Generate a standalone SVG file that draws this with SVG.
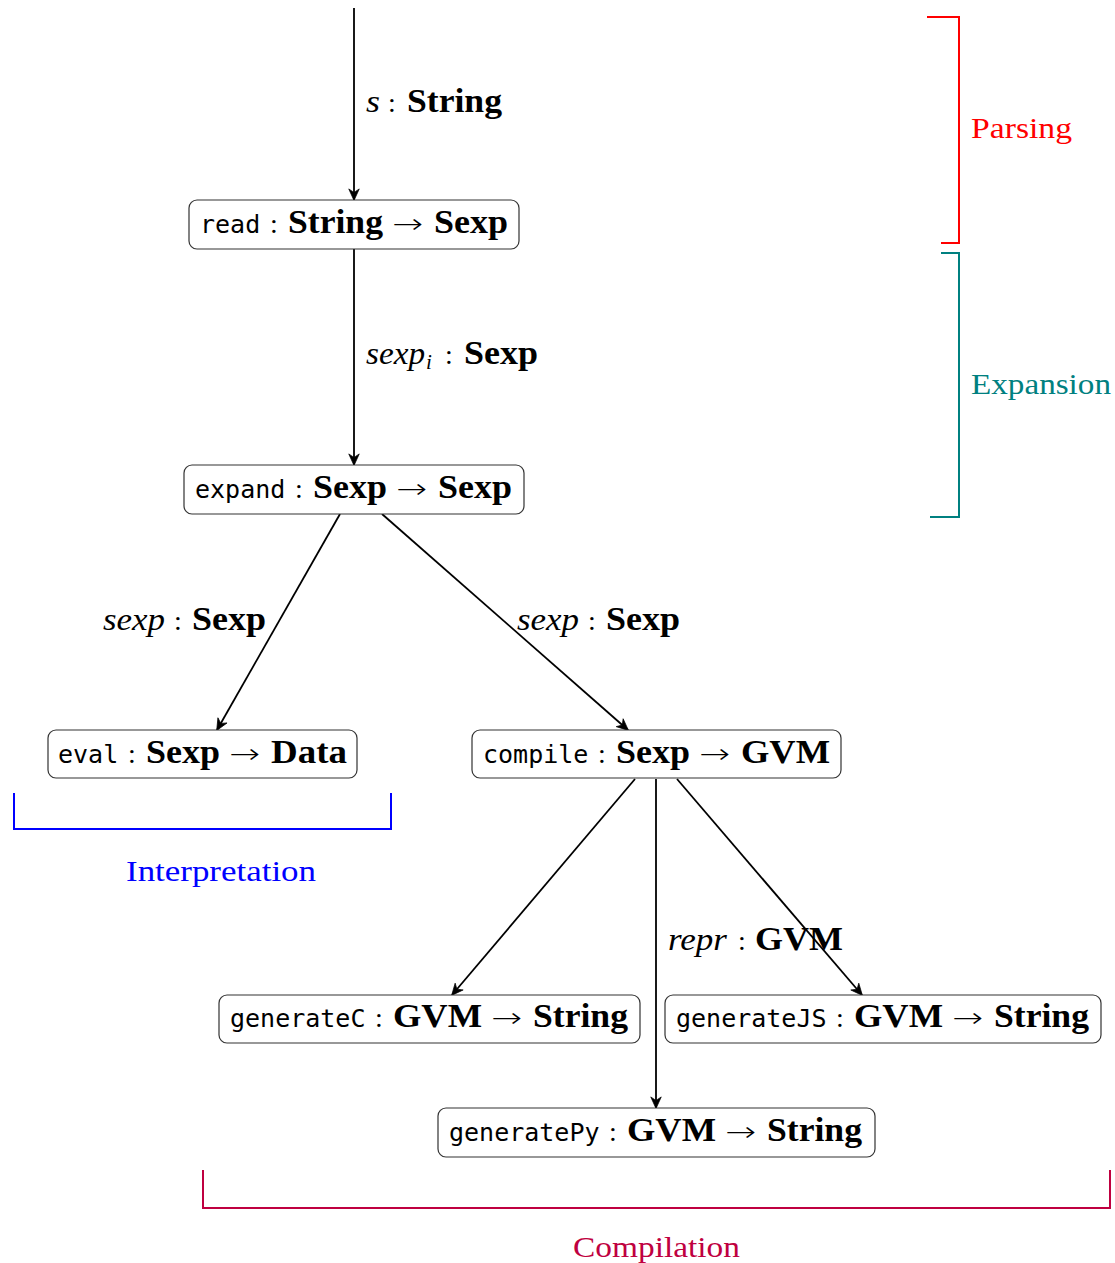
<svg xmlns="http://www.w3.org/2000/svg" width="1115" height="1263" viewBox="0 0 1115 1263">
<style>
text{font-family:"Liberation Serif","DejaVu Serif",serif;font-size:28px;fill:#000}
.tt{font-family:"DejaVu Sans Mono","Liberation Mono",monospace;font-size:25px}
.b{font-weight:bold;font-size:34px}
.i{font-style:italic;font-size:31px}
.sub{font-style:italic;font-size:21px}
.c{text-anchor:middle}
.ar{font-family:"DejaVu Sans ExtraLight","DejaVu Sans",sans-serif;font-weight:200;font-size:27px;text-anchor:middle}
.lab{font-size:30px}
.node rect{fill:#fff;stroke:#333;stroke-width:1.2}
.edge{stroke:#000;stroke-width:1.8;fill:none;marker-end:url(#arr)}
.br{fill:none;stroke-width:2}
</style>
<defs>
<marker id="arr" markerUnits="userSpaceOnUse" markerWidth="14" markerHeight="14" viewBox="-11 -6 12 12" refX="0" refY="0" orient="auto">
<path d="M0.5,0 L-9.5,-4.5 L-6.5,0 L-9.5,4.5 Z" fill="#000" stroke="#000" stroke-width="0.6" stroke-linejoin="miter"/>
</marker>
</defs>
<rect width="1115" height="1263" fill="#fff"/>
<g id="connectors">
<line class="edge" x1="354" y1="8" x2="354" y2="200"/>
<line class="edge" x1="354" y1="249" x2="354" y2="465"/>
<line class="edge" x1="340" y1="514" x2="217" y2="730"/>
<line class="edge" x1="382" y1="514" x2="628" y2="730"/>
<line class="edge" x1="635" y1="779" x2="452" y2="995"/>
<line class="edge" x1="656" y1="779" x2="656" y2="1108"/>
<line class="edge" x1="677" y1="779" x2="862" y2="995"/>
<g id="label-s">
<text class="i" x="366" y="112" textLength="14" lengthAdjust="spacingAndGlyphs">s</text>
<text class="c" x="392" y="112">:</text>
<text class="b" x="407" y="112" textLength="95" lengthAdjust="spacingAndGlyphs">String</text>
</g>
<g id="label-sexpi">
<text class="i" x="366" y="364" textLength="59" lengthAdjust="spacingAndGlyphs">sexp</text>
<text class="sub" x="426" y="369">i</text>
<text class="c" x="449" y="364">:</text>
<text class="b" x="464" y="364" textLength="74" lengthAdjust="spacingAndGlyphs">Sexp</text>
</g>
<g id="label-sexp-left">
<text class="i" x="103" y="630" textLength="62" lengthAdjust="spacingAndGlyphs">sexp</text>
<text class="c" x="178" y="630">:</text>
<text class="b" x="192" y="630" textLength="74" lengthAdjust="spacingAndGlyphs">Sexp</text>
</g>
<g id="label-sexp-right">
<text class="i" x="517" y="630" textLength="62" lengthAdjust="spacingAndGlyphs">sexp</text>
<text class="c" x="592" y="630">:</text>
<text class="b" x="606" y="630" textLength="74" lengthAdjust="spacingAndGlyphs">Sexp</text>
</g>
<g id="label-repr">
<text class="i" x="668" y="950" textLength="59" lengthAdjust="spacingAndGlyphs">repr</text>
<text class="c" x="742" y="950">:</text>
<text class="b" x="755" y="950" textLength="88" lengthAdjust="spacingAndGlyphs">GVM</text>
</g>
</g>
<g id="read" class="node">
<rect x="189" y="200" width="330" height="49" rx="8"/>
<text class="tt" x="200" y="233">read</text>
<text class="c" x="274" y="233">:</text>
<text class="b" x="288" y="233" textLength="95" lengthAdjust="spacingAndGlyphs">String</text>
<text class="ar" x="408" y="233" textLength="31" lengthAdjust="spacingAndGlyphs">→</text>
<text class="b" x="434" y="233" textLength="74" lengthAdjust="spacingAndGlyphs">Sexp</text>
</g>
<g id="expand" class="node">
<rect x="184" y="465" width="340" height="49" rx="8"/>
<text class="tt" x="195" y="498">expand</text>
<text class="c" x="299" y="498">:</text>
<text class="b" x="313" y="498" textLength="74" lengthAdjust="spacingAndGlyphs">Sexp</text>
<text class="ar" x="412" y="498" textLength="31" lengthAdjust="spacingAndGlyphs">→</text>
<text class="b" x="438" y="498" textLength="74" lengthAdjust="spacingAndGlyphs">Sexp</text>
</g>
<g id="eval" class="node">
<rect x="48" y="730" width="309" height="48" rx="8"/>
<text class="tt" x="58" y="763">eval</text>
<text class="c" x="132" y="763">:</text>
<text class="b" x="146" y="763" textLength="74" lengthAdjust="spacingAndGlyphs">Sexp</text>
<text class="ar" x="245" y="763" textLength="31" lengthAdjust="spacingAndGlyphs">→</text>
<text class="b" x="271" y="763" textLength="76" lengthAdjust="spacingAndGlyphs">Data</text>
</g>
<g id="compile" class="node">
<rect x="472" y="730" width="369" height="48" rx="8"/>
<text class="tt" x="483" y="763">compile</text>
<text class="c" x="602" y="763">:</text>
<text class="b" x="616" y="763" textLength="74" lengthAdjust="spacingAndGlyphs">Sexp</text>
<text class="ar" x="715" y="763" textLength="31" lengthAdjust="spacingAndGlyphs">→</text>
<text class="b" x="741" y="763" textLength="89" lengthAdjust="spacingAndGlyphs">GVM</text>
</g>
<g id="generateC" class="node">
<rect x="219" y="995" width="421" height="48" rx="8"/>
<text class="tt" x="230" y="1027">generateC</text>
<text class="c" x="379" y="1027">:</text>
<text class="b" x="393" y="1027" textLength="89" lengthAdjust="spacingAndGlyphs">GVM</text>
<text class="ar" x="507" y="1027" textLength="31" lengthAdjust="spacingAndGlyphs">→</text>
<text class="b" x="533" y="1027" textLength="95" lengthAdjust="spacingAndGlyphs">String</text>
</g>
<g id="generateJS" class="node">
<rect x="665" y="995" width="436" height="48" rx="8"/>
<text class="tt" x="676" y="1027">generateJS</text>
<text class="c" x="840" y="1027">:</text>
<text class="b" x="854" y="1027" textLength="89" lengthAdjust="spacingAndGlyphs">GVM</text>
<text class="ar" x="968" y="1027" textLength="31" lengthAdjust="spacingAndGlyphs">→</text>
<text class="b" x="994" y="1027" textLength="95" lengthAdjust="spacingAndGlyphs">String</text>
</g>
<g id="generatePy" class="node">
<rect x="438" y="1108" width="437" height="49" rx="8"/>
<text class="tt" x="449" y="1141">generatePy</text>
<text class="c" x="613" y="1141">:</text>
<text class="b" x="627" y="1141" textLength="89" lengthAdjust="spacingAndGlyphs">GVM</text>
<text class="ar" x="741" y="1141" textLength="31" lengthAdjust="spacingAndGlyphs">→</text>
<text class="b" x="767" y="1141" textLength="95" lengthAdjust="spacingAndGlyphs">String</text>
</g>
<g id="parsing">
<path class="br" stroke="#ff0000" d="M927,17 H959 V243 H941"/>
<text class="lab" x="971" y="138" style="fill:#ff0000" textLength="101" lengthAdjust="spacingAndGlyphs">Parsing</text>
</g>
<g id="expansion">
<path class="br" stroke="#008080" d="M941,253 H959 V517 H930"/>
<text class="lab" x="971" y="394" style="fill:#008080" textLength="140" lengthAdjust="spacingAndGlyphs">Expansion</text>
</g>
<g id="interpretation">
<path class="br" stroke="#0000ff" d="M14,793 V829 H391 V793"/>
<text class="lab" x="126" y="881" style="fill:#0000ff" textLength="190" lengthAdjust="spacingAndGlyphs">Interpretation</text>
</g>
<g id="compilation">
<path class="br" stroke="#bf0040" d="M203,1170 V1208 H1110 V1170"/>
<text class="lab" x="573" y="1257" style="fill:#bf0040" textLength="167" lengthAdjust="spacingAndGlyphs">Compilation</text>
</g>
</svg>
